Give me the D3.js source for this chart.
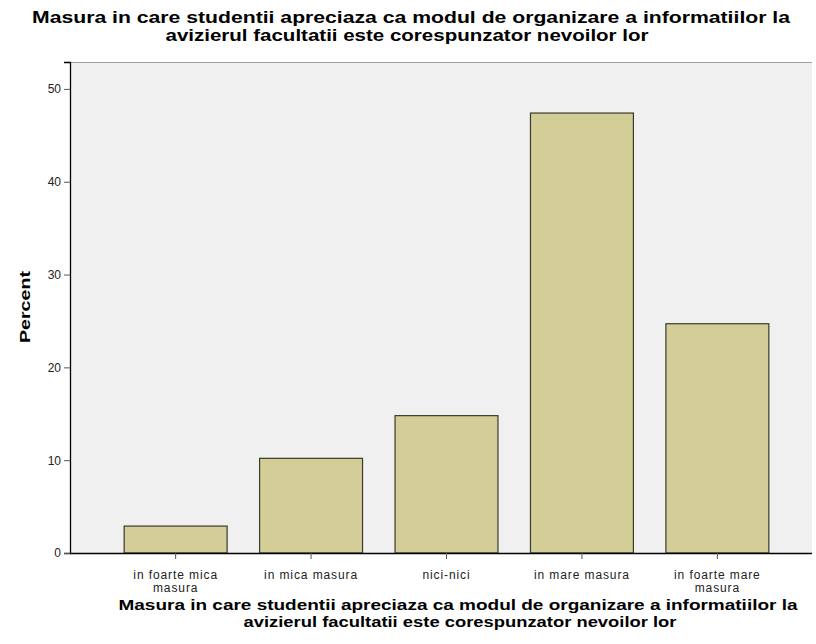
<!DOCTYPE html>
<html><head><meta charset="utf-8">
<script src="https://cdn.jsdelivr.net/npm/d3@7"></script>
<style>body{margin:0;background:#fff}svg{display:block}</style>
</head><body>
<script>
const categories = [["in foarte mica","masura"],["in mica masura"],["nici-nici"],["in mare masura"],["in foarte mare","masura"]];
const categoryKeys = ["in foarte mica masura","in mica masura","nici-nici","in mare masura","in foarte mare masura"];
const percents = [2.9, 10.2, 14.8, 47.4, 24.7];
const yTicks = [0, 10, 20, 30, 40, 50];
const titleLines = ["Masura in care studentii apreciaza ca modul de organizare a informatiilor la","avizierul facultatii este corespunzator nevoilor lor"];
const yTitle = "Percent";

const W = 816, H = 644;
const svg = d3.select("body").append("svg").attr("width", W).attr("height", H);
const plot = {left: 70, right: 812, top: 62, bottom: 553};
const tf = "Liberation Sans, Arial, sans-serif";

const x = d3.scaleBand().domain(categoryKeys).range([70, 823]).paddingInner(0.24).paddingOuter(0.4);
const y = d3.scaleLinear().domain([0, 52.9]).range([plot.bottom, plot.top]);

svg.append("rect").attr("x", plot.left).attr("y", plot.top)
  .attr("width", plot.right - plot.left).attr("height", plot.bottom - plot.top)
  .attr("fill", "#f0f0f0");
svg.append("line").attr("x1", plot.left).attr("x2", plot.right).attr("y1", plot.top + 0.5).attr("y2", plot.top + 0.5)
  .attr("stroke", "#a0a0a0").attr("stroke-width", 1);

svg.append("g").selectAll("rect").data(percents).join("rect")
  .attr("x", (d, i) => x(categoryKeys[i]))
  .attr("y", d => y(d))
  .attr("width", x.bandwidth())
  .attr("height", d => y(0) - y(d))
  .attr("fill", "#d3ce97").attr("stroke", "#3a3a2a").attr("stroke-width", 1.2);

// y axis
const yAxis = d3.axisLeft(y).tickValues(yTicks).tickSize(6).tickPadding(3).tickFormat(d3.format("d"));
const gy = svg.append("g").attr("transform", `translate(${plot.left},0)`).call(yAxis);
gy.select(".domain").attr("stroke", "#000").attr("stroke-width", 1.3);
gy.selectAll(".tick line").attr("stroke", "#555");
gy.selectAll(".tick text").attr("font-family", tf).attr("font-size", 12).attr("fill", "#222");

// x axis
const xAxis = d3.axisBottom(x).tickSize(6).tickFormat("");
const gx = svg.append("g").attr("transform", `translate(0,${plot.bottom})`).call(xAxis);
gx.select(".domain").attr("d", `M${plot.left},0.5H${plot.right}`).attr("stroke", "#000").attr("stroke-width", 1.3);
gx.selectAll(".tick line").attr("stroke", "#555");
gx.selectAll(".tick").each(function(d, i) {
  const t = d3.select(this).append("text").attr("fill", "#222")
    .attr("font-family", tf).attr("font-size", 12).attr("letter-spacing", 0.9)
    .attr("text-anchor", "middle");
  categories[i].forEach((line, j) => t.append("tspan").attr("x", 0).attr("y", 26 + j * 13).text(line));
});

// titles
function title(txt, cx, cy, size, len) {
  svg.append("text").attr("x", cx - len / 2).attr("y", cy)
    .attr("font-family", tf).attr("font-weight", "bold").attr("font-size", size).attr("fill", "#000")
    .attr("textLength", len).attr("lengthAdjust", "spacingAndGlyphs").text(txt);
}
title(titleLines[0], 411, 23, 17, 758);
title(titleLines[1], 407, 41, 17, 483);
title(titleLines[0], 458, 610, 15.5, 679);
title(titleLines[1], 460, 627, 15.5, 433);

svg.append("text").attr("transform", `translate(30,${y(26.5) + 36}) rotate(-90)`)
  .attr("font-family", tf).attr("font-weight", "bold").attr("font-size", 15).attr("fill", "#000")
  .attr("textLength", 72).attr("lengthAdjust", "spacingAndGlyphs").text(yTitle);
</script>
</body></html>
